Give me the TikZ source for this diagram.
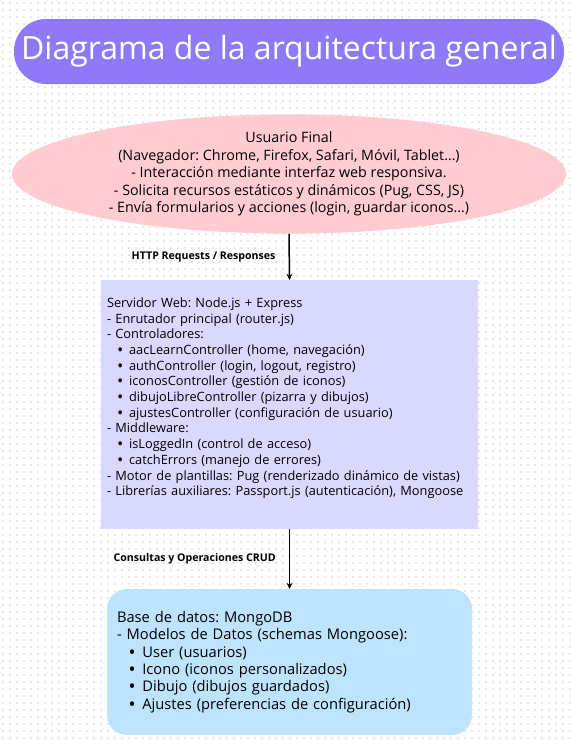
\documentclass[tikz,border=0pt]{standalone}
\usepackage{fontspec}
\setmainfont{Open Sans}
\newfontfamily\labelfont{Open Sans}
\usetikzlibrary{shapes.geometric, arrows.meta}

\definecolor{titlepurple}{HTML}{8F79F7}
\definecolor{userpink}{HTML}{FFCCD2}
\definecolor{serverlilac}{HTML}{D9D9FF}
\definecolor{dbblue}{HTML}{BEE3FC}
\definecolor{dotgray}{HTML}{E8E8E8}

\newcommand{\itemdot}{\hspace*{0.85em}{\bfseries\textbullet}\hspace{0.5em}}
\frenchspacing

\begin{document}
\begin{tikzpicture}[x=1pt, y=-1pt,
        titlebox/.style={fill=titlepurple, text=white, rounded corners=32pt,
            minimum width=550pt, minimum height=65pt, inner sep=0pt,
            font=\fontsize{32}{36}\selectfont},
        userbox/.style={ellipse, fill=userpink, minimum width=554pt,
            minimum height=112pt, inner sep=0pt, align=center,
            font=\fontsize{14.3}{17.5}\selectfont},
        serverbox/.style={fill=serverlilac, minimum width=377pt,
            minimum height=249pt, inner xsep=6pt, text width=365pt, align=left,
            font=\fontsize{12.8}{15.7}\selectfont},
        dbbox/.style={fill=dbblue, rounded corners=20pt, minimum width=365pt,
            minimum height=146pt, inner xsep=10pt, text width=345pt, align=left,
            font=\fontsize{14.7}{17.3}\selectfont},
        flow/.style={line width=1.5pt, -{Stealth[length=6pt, width=6pt]}},
        edgelabel/.style={inner sep=0pt, font=\labelfont\bfseries\fontsize{10.6}{12}\selectfont}
    ]
    \useasboundingbox (0,0) rectangle (571,740);
    \fill[white] (0,0) rectangle (571,740);
    \foreach \i in {0,...,81}
        \foreach \j in {0,...,105}
            \fill[dotgray] (2+\i*7, 2+\j*7) rectangle ++(1.5,1.5);

    \node[titlebox] (title) at (289,51.5) {Diagrama de la arquitectura general};

    \node[userbox] (user) at (289,174) {Usuario Final\\
        (Navegador: Chrome, Firefox, Safari, Móvil, Tablet…)\\
        - Interacción mediante interfaz web responsiva.\\
        - Solicita recursos estáticos y dinámicos (Pug, CSS, JS)\\
        - Envía formularios y acciones (login, guardar iconos…)};

    \node[serverbox] (server) at (289.5,404.5) {Servidor Web: Node.js + Express\\
        - Enrutador principal (router.js)\\
        - Controladores:\\
        \itemdot aacLearnController (home, navegación)\\
        \itemdot authController (login, logout, registro)\\
        \itemdot iconosController (gestión de iconos)\\
        \itemdot dibujoLibreController (pizarra y dibujos)\\
        \itemdot ajustesController (configuración de usuario)\\
        - Middleware:\\
        \itemdot isLoggedIn (control de acceso)\\
        \itemdot catchErrors (manejo de errores)\\
        - Motor de plantillas: Pug (renderizado dinámico de vistas)\\
        - Librerías auxiliares: Passport.js (autenticación), Mongoose\\
        \mbox{}};

    \node[dbbox] (db) at (289.5,662) {Base de datos: MongoDB\\
        - Modelos de Datos (schemas Mongoose):\\
        \itemdot User (usuarios)\\
        \itemdot Icono (iconos personalizados)\\
        \itemdot Dibujo (dibujos guardados)\\
        \itemdot Ajustes (preferencias de configuración)};

    \draw[flow] (user.south) -- node[edgelabel, midway, left=13pt] {HTTP Requests / Responses} (server.north);
    \draw[flow] (server.south) -- node[edgelabel, midway, left=13pt] {Consultas y Operaciones CRUD} (db.north);
\end{tikzpicture}
\end{document}
